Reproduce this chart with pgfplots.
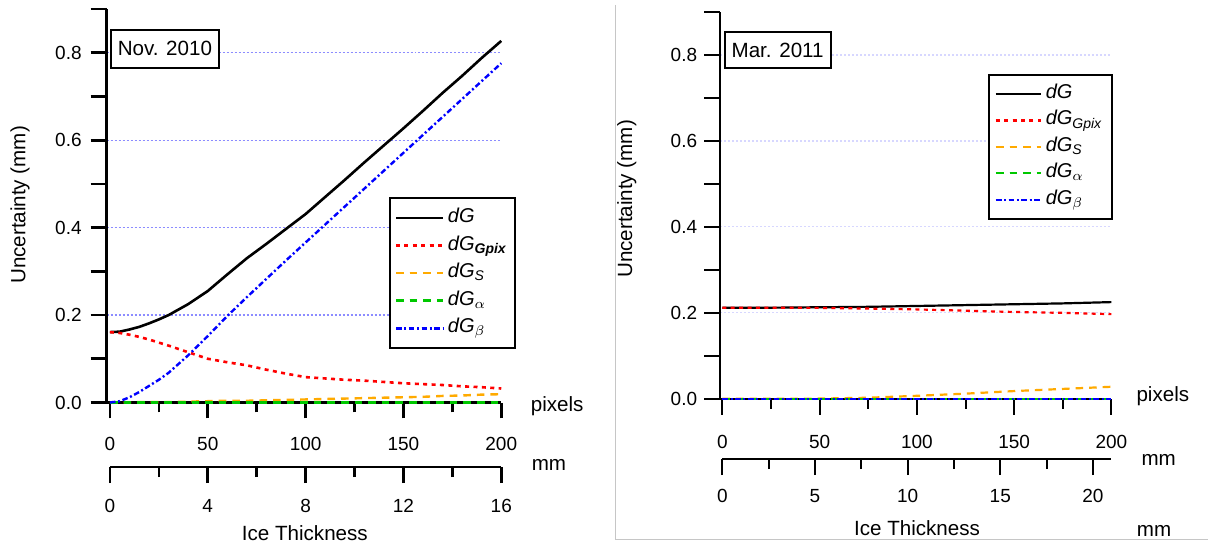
\documentclass[border=0pt]{standalone}
\usepackage{pgfplots}
\pgfplotsset{compat=1.18}
\usepackage{pgfplotstable}
\usepackage{fontspec}
\setmainfont{Liberation Sans}
\definecolor{cRed}{RGB}{255,0,0}
\definecolor{cOrange}{RGB}{255,170,0}
\definecolor{cGreen}{RGB}{0,200,0}
\definecolor{cBlue}{RGB}{0,0,255}
\definecolor{gridL}{RGB}{140,140,255}
\definecolor{gridR}{RGB}{215,215,255}

\pgfplotstableread{
x dG Gpix S alpha beta
0 0.161 0.161 0.000 0 0.000
5 0.162 0.159 0.000 0 0.003
10 0.167 0.155 0.000 0 0.012
15 0.173 0.150 0.001 0 0.024
20 0.181 0.144 0.001 0 0.038
25 0.190 0.137 0.001 0 0.052
30 0.200 0.130 0.001 0 0.068
40 0.225 0.115 0.002 0 0.108
50 0.255 0.100 0.003 0 0.152
60 0.293 0.092 0.004 0 0.198
70 0.330 0.085 0.004 0 0.241
80 0.363 0.075 0.005 0 0.283
90 0.397 0.066 0.006 0 0.325
100 0.431 0.058 0.007 0 0.366
110 0.470 0.055 0.008 0 0.407
120 0.509 0.052 0.009 0 0.448
130 0.549 0.050 0.010 0 0.489
140 0.588 0.047 0.011 0 0.530
150 0.627 0.044 0.012 0 0.571
160 0.667 0.042 0.013 0 0.612
170 0.708 0.040 0.015 0 0.653
180 0.747 0.037 0.016 0 0.694
190 0.788 0.035 0.018 0 0.735
200 0.827 0.032 0.019 0 0.776
}\novdata

\pgfplotstableread{
x dG Gpix S alpha beta
0 0.212 0.212 0.000 0 0
25 0.212 0.212 0.000 0 0
50 0.213 0.2115 0.0005 0 0
75 0.214 0.210 0.0025 0 0
100 0.216 0.208 0.007 0 0
125 0.218 0.205 0.012 0 0
150 0.220 0.202 0.018 0 0
175 0.222 0.200 0.023 0 0
200 0.225 0.197 0.028 0 0
}\mardata

\pgfplotsset{
  sdG/.style={black, solid, line width=1.3pt},
  sGpix/.style={cRed, line width=1.3pt, dash pattern=on 2pt off 2.2pt},
  sS/.style={cOrange, line width=1.2pt, dash pattern=on 3.8pt off 3pt},
  sA/.style={cGreen, line width=1.2pt, dash pattern=on 3.8pt off 3pt},
  sB/.style={cBlue, line width=1.2pt, dash pattern=on 2.8pt off 1.3pt on 1pt off 1.3pt},
  base/.style={scale only axis, clip=false, axis x line*=bottom, axis y line*=left,
    tick align=outside, major tick length=8pt, minor tick length=5pt,
    /pgf/number format/assume math mode=true,
    ticklabel style={font=\fontsize{9.5}{11}\selectfont}},
  mainax/.style={base, anchor=south west, ymin=0, ymax=0.9,
    xtick={0,50,...,200}, minor xtick={25,75,125,175},
    ytick={0,0.2,0.4,0.6,0.8}, extra y ticks={0.1,0.3,0.5,0.7,0.9},
    extra y tick labels={}, extra y tick style={grid=none},
    ymajorgrids,
    yticklabel style={/pgf/number format/fixed, /pgf/number format/fixed zerofill,
      /pgf/number format/precision=1},
    legend cell align=left,
  },
  mmax/.style={base, anchor=south west, hide y axis, ymin=0, ymax=1, height=1pt},
}

\newcommand{\lab}{\fontsize{10.3}{12}\selectfont}

\begin{document}
\begin{tikzpicture}
\path (0pt,0pt) rectangle (604.5pt,-272.5pt);

% ---------------- Left panel ----------------
\begin{axis}[mainax, at={(53.35pt,-201.35pt)}, width=197.4pt, height=196.85pt,
  xmin=-1.69, xmax=200,
  axis line style={line width=1.35pt}, tick style={black, line width=1.35pt},
  major grid style={gridL, line width=0.6pt, dash pattern=on 1pt off 1pt},
  yticklabel style={xshift=-1pt}, xticklabel style={yshift=-6pt},
  legend image code/.code={\draw[#1] (0pt,0pt) -- (19.5pt,0pt); \path (0pt,0pt) -- (23.5pt,0pt);},
  legend image post style={line width=1.3pt},
  legend style={at={(0.716,0.5217)}, anchor=north west, draw=black, line width=1pt,
    fill=white, inner xsep=2.3pt, inner ysep=3pt, row sep=0pt,
    font=\fontsize{10}{12}\selectfont,
    nodes={text height=7.4pt, text depth=2.8pt, inner sep=1.8pt}},
]
\addplot[sdG] table[x=x, y=dG] {\novdata};
\addlegendentry{\textit{dG}}
\addplot[sGpix] table[x=x, y=Gpix] {\novdata};
\addlegendentry{\textit{dG}\textsubscript{\textbf{\textit{Gpix}}}}
\addplot[sS] table[x=x, y=S] {\novdata};
\addlegendentry{\textit{dG}\textsubscript{\textit{S}}}
\addplot[sA] table[x=x, y=alpha] {\novdata};
\addlegendentry{\textit{dG}\textsubscript{$\alpha$}}
\addplot[sB] table[x=x, y=beta] {\novdata};
\addlegendentry{\textit{dG}\textsubscript{$\beta$}}
\end{axis}

\begin{axis}[mmax, at={(55pt,-233.65pt)}, width=195.75pt,
  xmin=0, xmax=16, xtick={0,4,...,16}, minor xtick={2,6,10,14},
  xticklabel style={yshift=-4.5pt},
  axis line style={line width=1.35pt}, tick style={black, line width=1.35pt}]
\end{axis}

\node[rotate=90, font=\lab] at (10pt,-102.5pt) {Uncertainty (mm)};
\node[anchor=west, font=\lab, inner sep=0pt] at (265.35pt,-203.35pt) {pixels};
\node[anchor=west, font=\lab, inner sep=0pt] at (265.85pt,-232.5pt) {mm};
\node[font=\lab, inner sep=0pt] at (152.5pt,-266.65pt) {Ice Thickness};
\node[draw, line width=1pt, fill=white, minimum width=54pt, minimum height=18.85pt,
  inner sep=0pt, font=\lab] at (82.5pt,-24.4pt) {Nov. 2010};

% ---------------- Right panel ----------------
\draw[gray!45, line width=0.6pt] (307.75pt,-2.5pt) -- (307.75pt,-270pt) -- (604.5pt,-270pt);

\begin{axis}[mainax, at={(360.25pt,-199.5pt)}, width=195.75pt, height=193.5pt,
  xmin=-1.13, xmax=200,
  axis line style={line width=1pt}, tick style={black, line width=1pt},
  major grid style={gridR, line width=0.6pt, dash pattern=on 1pt off 1pt},
  xticklabel style={yshift=-6.5pt},
  legend image code/.code={\draw[#1] (0pt,0pt) -- (18.3pt,0pt); \path (0pt,0pt) -- (22.8pt,0pt);},
  legend image post style={line width=1.1pt},
  legend style={at={(0.684,0.8398)}, anchor=north west, draw=black, line width=1pt,
    fill=white, inner xsep=3pt, inner ysep=3pt, row sep=0pt,
    font=\fontsize{10}{12}\selectfont,
    nodes={text height=7.2pt, text depth=2.8pt, inner sep=1.6pt}},
]
\addplot[sdG, line width=1.1pt] table[x=x, y=dG] {\mardata};
\addlegendentry{\textit{dG}}
\addplot[sGpix, line width=1.1pt] table[x=x, y=Gpix] {\mardata};
\addlegendentry{\textit{dG}\textsubscript{\textit{Gpix}}}
\addplot[sS, line width=1.1pt] table[x=x, y=S] {\mardata};
\addlegendentry{\textit{dG}\textsubscript{\textit{S}}}
\addplot[sA, line width=1.1pt] table[x=x, y=alpha] {\mardata};
\addlegendentry{\textit{dG}\textsubscript{$\alpha$}}
\addplot[sB, line width=1.1pt] table[x=x, y=beta] {\mardata};
\addlegendentry{\textit{dG}\textsubscript{$\beta$}}
\end{axis}

\begin{axis}[mmax, at={(361.35pt,-229.65pt)}, width=194.65pt,
  xmin=0, xmax=21, xtick={0,5,...,20}, minor xtick={2.5,7.5,12.5,17.5},
  xticklabel style={yshift=-3.75pt},
  axis line style={line width=1pt}, tick style={black, line width=1pt}]
\end{axis}

\node[rotate=90, font=\lab] at (313.5pt,-99.5pt) {Uncertainty (mm)};
\node[anchor=west, font=\lab, inner sep=0pt] at (568.35pt,-198.35pt) {pixels};
\node[anchor=west, font=\lab, inner sep=0pt] at (570.85pt,-230pt) {mm};
\node[anchor=west, font=\lab, inner sep=0pt] at (568.5pt,-265.85pt) {mm};
\node[font=\lab, inner sep=0pt] at (458.75pt,-264.15pt) {Ice Thickness};
\node[draw, line width=1pt, fill=white, minimum width=53pt, minimum height=17.7pt,
  inner sep=0pt, font=\lab] at (389pt,-25pt) {Mar. 2011};
\end{tikzpicture}
\end{document}
